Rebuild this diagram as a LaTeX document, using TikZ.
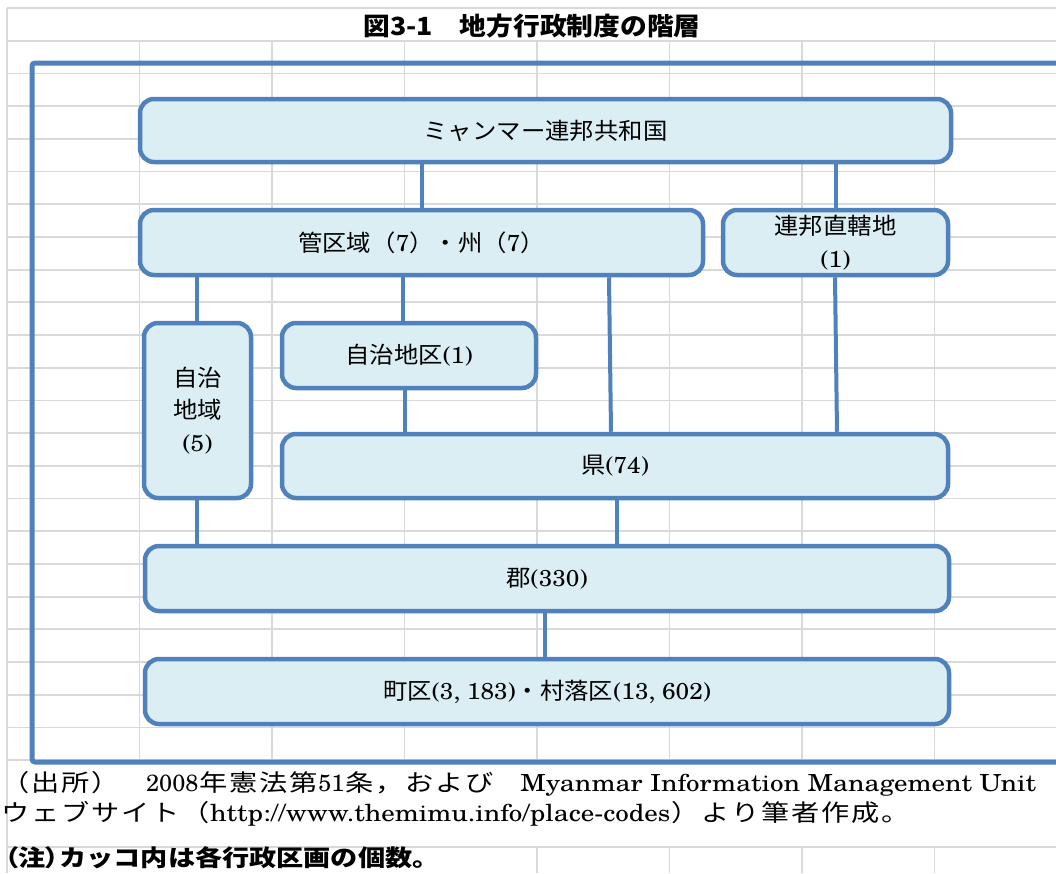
\documentclass[tikz,border=0pt]{standalone}
\usepackage{fontspec}
\setmainfont{TeX Gyre Schola}[FakeStretch=1.06]
\newfontfamily\jm{Noto Sans CJK JP}[FakeStretch=1.06]
\newfontfamily\jf{Noto Sans CJK JP}[FakeStretch=1.2]
\newfontfamily\lf{TeX Gyre Schola}[FakeStretch=1.15]
\newfontfamily\ldig{TeX Gyre Schola}
\newfontfamily\jg{Noto Sans CJK JP}[FakeStretch=1.07]
\newfontfamily\jgn{Noto Sans CJK JP}[FakeStretch=1.18]
\newfontfamily\jgp{Noto Sans CJK JP}[FakeStretch=1.18,RawFeature=+palt]
\definecolor{frameblue}{HTML}{4F81BD}
\definecolor{boxfill}{HTML}{DAEEF3}
\definecolor{gridgray}{HTML}{D9D9D9}
% set each character of #2 in a cell of width #1 (spaced CJK text)
\makeatletter
\def\spc#1#2{\def\spc@w{#1}\spc@i#2\relax}
\def\spc@i#1{\ifx#1\relax\else\makebox[\spc@w][c]{#1}\expandafter\spc@i\fi}
\makeatother
\begin{document}
\begin{tikzpicture}[x=1pt,y=-1pt,
  gridline/.style={draw=gridgray,line width=1.8pt},
  outerframe/.style={draw=frameblue,line width=5pt,rounded corners=3pt},
  tierbox/.style={draw=frameblue,fill=boxfill,line width=4.5pt,rounded corners=14pt,
    inner sep=0pt,align=center,text=black,font=\fontsize{23}{32.5}\selectfont},
  link/.style={draw=frameblue,line width=4pt},
  plain/.style={inner sep=0pt,text=black}
]
\useasboundingbox[fill=white] (0,0) rectangle (1056,873);

% spreadsheet grid
\draw[gridline] (7,8) -- (1056,8);
\foreach \k in {1,...,23} {\draw[gridline] (7,{8+32.7*\k}) -- (1056,{8+32.7*\k});}
\draw[gridline] (7,847) -- (1056,847);
\draw[gridline] (7,8) -- (7,873);
\foreach \j in {1,...,7} {\draw[gridline] ({7+132.5*\j},40.7) -- ({7+132.5*\j},760);}
\foreach \j in {4,...,7} {\draw[gridline] ({7+132.5*\j},847) -- ({7+132.5*\j},873);}

% outer frame
\draw[outerframe] (32,63) rectangle (1080,762);

% title
\node[plain,anchor=base,font=\fontsize{25}{30}\selectfont\bfseries] (title) at (532,35)
  {\jg 図3-1　地方行政制度の階層};

% boxes
\node[tierbox,minimum width=811pt,minimum height=63pt] (union) at (545.5,130.5) {\jm ミャンマー連邦共和国};
\node[tierbox,minimum width=563pt,minimum height=65pt] (region) at (421.5,242.5) {{\jm 管区域（}7{\jm ）・州（}7{\jm ）}};
\node[tierbox,minimum width=225pt,minimum height=65pt] (capital) at (835.5,242.5) {{\jm 連邦直轄地}\\(1)};
\node[tierbox,minimum width=107pt,minimum height=175pt] (selfzone) at (197.5,410.5) {{\jm 自治}\\{\jm 地域}\\(5)};
\node[tierbox,minimum width=254pt,minimum height=65pt] (selfdiv) at (409,355.5) {{\jm 自治地区}(1)};
\node[tierbox,minimum width=666pt,minimum height=64pt] (district) at (615,466) {{\jm 県}(74)};
\node[tierbox,minimum width=804pt,minimum height=65pt] (township) at (547,578.5) {{\jm 郡}(330)};
\node[tierbox,minimum width=804pt,minimum height=65pt] (ward) at (547,691.5) {{\jm 町区}(3, 183){\jm ・村落区}(13, 602)};

% connector columns
\coordinate (c1) at (422,0);
\coordinate (c2) at (836,0);
\coordinate (c3) at (197,0);
\coordinate (c4) at (403,0);
\coordinate (c5a) at (609,0);
\coordinate (c5b) at (611,0);
\coordinate (c6a) at (835,0);
\coordinate (c6b) at (837,0);
\coordinate (c7) at (405,0);
\coordinate (c8) at (617,0);
\coordinate (c9) at (545,0);

\draw[link] (union.south -| c1) -- (region.north -| c1);
\draw[link] (union.south -| c2) -- (capital.north -| c2);
\draw[link] (region.south -| c3) -- (selfzone.north -| c3);
\draw[link] (region.south -| c4) -- (selfdiv.north -| c4);
\draw[link] (region.south -| c5a) -- (district.north -| c5b);
\draw[link] (capital.south -| c6a) -- (district.north -| c6b);
\draw[link] (selfdiv.south -| c7) -- (district.north -| c7);
\draw[link] (selfzone.south -| c3) -- (township.north -| c3);
\draw[link] (district.south -| c8) -- (township.north -| c8);
\draw[link] (township.south -| c9) -- (ward.north -| c9);

% source lines
\node[plain,anchor=base west,font=\fontsize{23.5}{28}\selectfont] (src1) at (0,791)
  {\hbox to 1036pt{{\jf\spc{30pt}{（出所）}}\hfil{\ldig 2008}{\jf\spc{30pt}{年憲法第}}{\ldig 51}{\jf\spc{30pt}{条，および}}\hfil{\lf Myanmar Information Management Unit}}};
\node[plain,anchor=base west,font=\fontsize{23.5}{28}\selectfont] (src2) at (0,821)
  {{\jf\spc{30pt}{ウェブサイト（}}{\lf http://www.themimu.info/place-codes}{\jf\spc{30pt}{）より筆者作成。}}};
\node[plain,anchor=base west,font=\fontsize{23}{28}\selectfont\bfseries] (note) at (5,866)
  {{\jgp （}{\jgn 注}{\jgp ）}{\jgn カッコ内は各行政区画の個数。}};
\end{tikzpicture}
\end{document}
